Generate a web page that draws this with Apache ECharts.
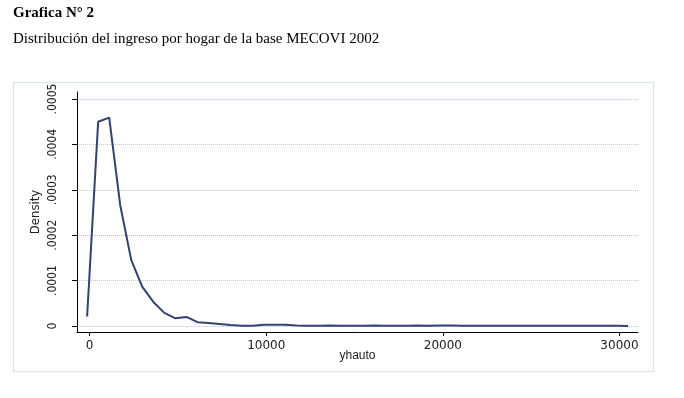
<!DOCTYPE html>
<html>
<head>
<meta charset="utf-8">
<script src="https://cdn.jsdelivr.net/npm/echarts@6/dist/echarts.min.js"></script>
<style>
  html, body { margin: 0; padding: 0; background: #fff; }
  #main { width: 684px; height: 398px; }
</style>
</head>
<body>
<div id="main"></div>
<script>
// ingreso por hogar (yhauto) y densidad estimada
var yhauto = [-140, 485, 1110, 1735, 2360, 2985, 3610, 4235, 4860, 5485,
  6110, 6735, 7360, 7985, 8610, 9235, 9860, 10485, 11110, 11735,
  12360, 12985, 13610, 14235, 14860, 15485, 16110, 16735, 17360, 17985,
  18610, 19235, 19860, 20485, 21110, 21735, 22360, 22985, 23610, 24235,
  24860, 25485, 26110, 26735, 27360, 27985, 28610, 29235, 29860, 30485];
var density = [0.000021, 0.000450, 0.000459, 0.000266, 0.000145, 0.000086, 0.000053, 0.000029, 0.000017, 0.000020,
  0.0000085, 0.0000065, 0.0000045, 0.000002, 0.0000005, 0.0000008, 0.000003, 0.000003, 0.0000025, 0.000001,
  0.0000005, 0.0000008, 0.000001, 0.0000004, 0.0000006, 0.0000008, 0.000001, 0.0000005, 0.0000008, 0.0000006,
  0.000001, 0.0000005, 0.0000012, 0.000001, 0.0000004, 0.0000006, 0.0000008, 0.0000006, 0.0000007, 0.0000008,
  0.0000006, 0.0000007, 0.0000008, 0.0000007, 0.0000006, 0.0000007, 0.0000006, 0.0000005, 0.0000005, 0.0000002];
var xTicks = [0, 10000, 20000, 30000];
var yTicks = [0, 0.0001, 0.0002, 0.0003, 0.0004, 0.0005];

var narrow = '"DejaVu Sans Condensed", "Liberation Sans", sans-serif';

var chart = echarts.init(document.getElementById('main'));
chart.setOption({
  animation: false,
  graphic: [
    {type: 'text', left: 13, top: 6,
     style: {text: 'Grafica N\u00b0 2', font: 'bold 15px "Liberation Serif"', fill: '#000'}},
    {type: 'text', left: 13, top: 32,
     style: {text: 'Distribución del ingreso por hogar de la base MECOVI 2002', font: '15px "Liberation Serif"', fill: '#000'}},
    {type: 'rect', shape: {x: 13.5, y: 82.5, width: 640, height: 289},
     style: {fill: 'none', stroke: '#a9c8e6', lineWidth: 1, lineDash: [1, 1]}, silent: true}
  ],
  grid: {left: 77, right: 46, top: 92, bottom: 66},
  xAxis: {
    type: 'value',
    min: -713, max: 31050,
    name: 'yhauto',
    nameLocation: 'middle',
    nameGap: 18,
    nameMoveOverlap: false,
    nameTextStyle: {fontFamily: 'Liberation Sans', fontSize: 12, color: '#222'},
    axisLine: {onZero: false, lineStyle: {color: '#000', width: 1}},
    axisTick: {customValues: xTicks, length: 4, lineStyle: {color: '#000'}},
    axisLabel: {
      customValues: xTicks, margin: 8, fontFamily: 'DejaVu Sans', fontSize: 12, color: '#222',
      formatter: function (v) { return String(v); }
    },
    splitLine: {show: false}
  },
  yAxis: {
    type: 'value',
    min: -0.0000132, max: 0.0000154 + 0.0005,
    name: 'Density',
    nameLocation: 'middle',
    nameRotate: 90,
    nameGap: 35,
    nameMoveOverlap: false,
    nameTextStyle: {fontFamily: narrow, fontSize: 13, color: '#222'},
    axisLine: {show: true, onZero: false, lineStyle: {color: '#000', width: 1}},
    axisTick: {show: true, customValues: yTicks, length: 5, lineStyle: {color: '#000'}},
    axisLabel: {
      customValues: yTicks, rotate: 90, margin: 18,
      fontFamily: narrow, fontSize: 12, color: '#222',
      formatter: function (v) { return v === 0 ? '0' : v.toFixed(4).replace(/^0/, ''); }
    },
    splitLine: {
      show: true,
      lineStyle: {type: [1, 1], width: 1,
        color: ['#a9c6ea', '#b0d6b6', '#c8b0ea', '#b0d6b6', '#b0d6b6', '#eab0ee']}
    }
  },
  series: [{
    type: 'line',
    data: yhauto.map(function (x, i) { return [x, density[i]]; }),
    symbol: 'none',
    lineStyle: {color: '#34426f', width: 2}
  }]
});
</script>
</body>
</html>
